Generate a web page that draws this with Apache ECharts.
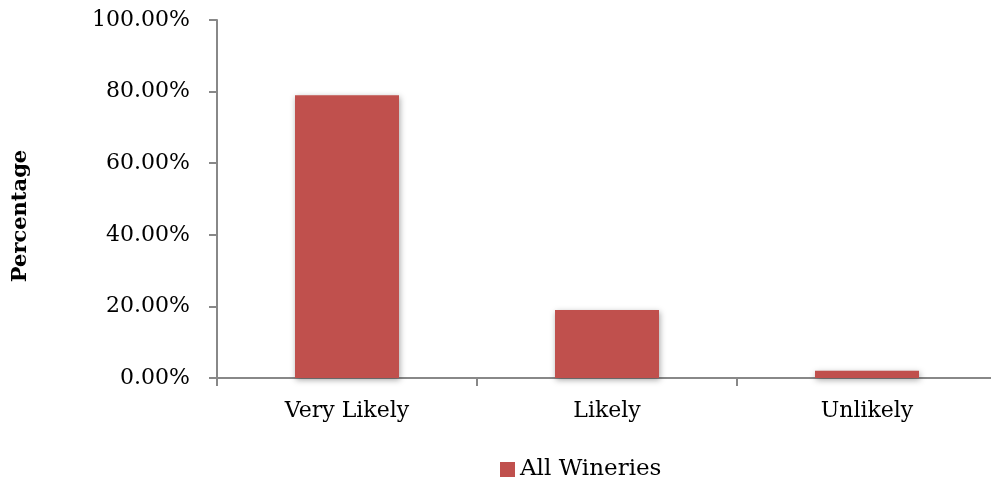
<!DOCTYPE html>
<html>
<head>
<meta charset="utf-8">
<script src="https://cdn.jsdelivr.net/npm/echarts@6/dist/echarts.min.js"></script>
<style>
html,body{margin:0;padding:0;background:#fff;}
#chart{width:991px;height:480px;}
</style>
</head>
<body>
<div id="chart"></div>
<script>
const categories = ['Very Likely', 'Likely', 'Unlikely'];
const allWineries = [0.79, 0.19, 0.02];
const yTicks = [0, 0.2, 0.4, 0.6, 0.8, 1.0];
const seriesName = 'All Wineries';
const yAxisTitle = 'Percentage';

const font = 'DejaVu Serif';
const chart = echarts.init(document.getElementById('chart'), null, {renderer: 'canvas'});
chart.setOption({
  animation: false,
  backgroundColor: '#ffffff',
  grid: {left: 217, top: 20, bottom: 102, width: 780, containLabel: false, outerBoundsMode: 'none'},
  legend: {
    data: [seriesName],
    left: 495, top: 453,
    icon: 'rect', itemWidth: 15, itemHeight: 15, itemGap: 6,
    textStyle: {fontFamily: font, fontSize: 23, color: '#000'}
  },
  xAxis: {
    type: 'category',
    data: categories,
    axisLine: {lineStyle: {color: '#888888', width: 2}},
    axisTick: {show: true, length: 8, alignWithLabel: false, lineStyle: {color: '#888888', width: 2}},
    axisLabel: {fontFamily: font, fontSize: 22, color: '#000', margin: 22}
  },
  yAxis: {
    type: 'value',
    min: 0, max: 1, interval: 0.2,
    name: yAxisTitle,
    nameLocation: 'middle',
    nameGap: 186,
    nameRotate: 90,
    nameTextStyle: {fontFamily: font, fontSize: 21, fontWeight: 'bold', color: '#000', padding: [0, 34, 0, 0]},
    splitLine: {show: false},
    axisLine: {show: true, lineStyle: {color: '#888888', width: 2}},
    axisTick: {show: true, length: 8, lineStyle: {color: '#888888', width: 2}},
    axisLabel: {
      fontFamily: font, fontSize: 22, color: '#000', margin: 27,
      formatter: v => yTicks.some(t => Math.abs(t - v) < 1e-9) ? (v * 100).toFixed(2) + '%' : ''
    }
  },
  series: [{
    name: seriesName,
    type: 'bar',
    data: allWineries,
    barWidth: '40%',
    itemStyle: {
      color: '#C0504D',
      shadowBlur: 6,
      shadowColor: 'rgba(0,0,0,0.35)',
      shadowOffsetX: 1,
      shadowOffsetY: 2
    }
  }]
});
</script>
</body>
</html>
